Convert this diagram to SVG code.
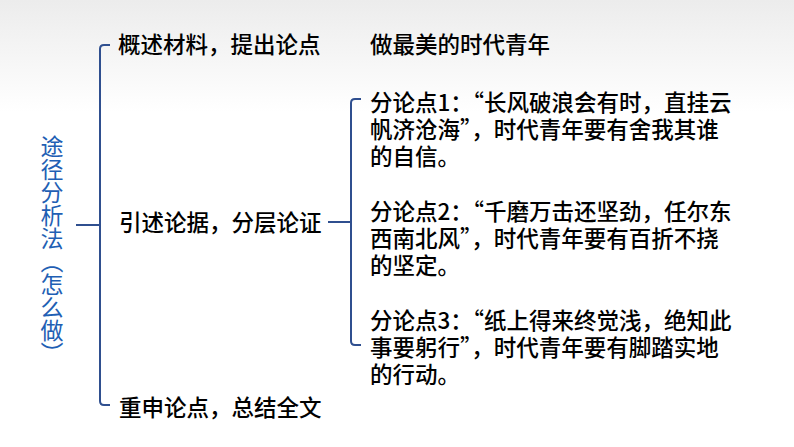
<svg xmlns="http://www.w3.org/2000/svg" width="794" height="447" viewBox="0 0 794 447">
<defs>
<linearGradient id="bg" x1="0" y1="0" x2="0" y2="1">
<stop offset="0" stop-color="#ececec"/><stop offset="0.25" stop-color="#ffffff"/><stop offset="1" stop-color="#ffffff"/>
</linearGradient>
</defs>
<style>
text{font-family:"Noto Sans CJK SC","Liberation Sans",sans-serif;font-size:22.5px;fill:#000;font-weight:500}
.v{fill:#1f5fb4;font-size:23px;font-weight:400}
.c{fill:none;stroke:#2f4f8f;stroke-width:2}
</style>
<rect width="794" height="447" fill="url(#bg)"/>
<g id="connectors">
<path class="c" d="M76 225H100M110 45H104Q100 45 100 49V401Q100 405 104 405H110"/>
<path class="c" d="M328 222H351M361 99H355Q351 99 351 103V341Q351 345 355 345H361"/>
</g>
<g id="root"><text class="v" x="52" y="135" style="writing-mode:vertical-rl">途径分析法（怎么做）</text></g>
<g id="n1"><text x="118" y="53">概述材料，提出论点</text><text x="370" y="53">做最美的时代青年</text></g>
<g id="n2"><text x="119" y="231">引述论据，分层论证</text></g>
<g id="n3"><text x="119" y="416">重申论点，总结全文</text></g>
<g id="p1"><text x="370" y="111">分论点1：“长风破浪会有时，直挂云</text><text x="370" y="138">帆济沧海”，时代青年要有舍我其谁</text><text x="370" y="165">的自信。</text></g>
<g id="p2"><text x="370" y="220">分论点2：“千磨万击还坚劲，任尔东</text><text x="370" y="247">西南北风”，时代青年要有百折不挠</text><text x="370" y="274">的坚定。</text></g>
<g id="p3"><text x="370" y="329">分论点3：“纸上得来终觉浅，绝知此</text><text x="370" y="356">事要躬行”，时代青年要有脚踏实地</text><text x="370" y="383">的行动。</text></g>
</svg>
